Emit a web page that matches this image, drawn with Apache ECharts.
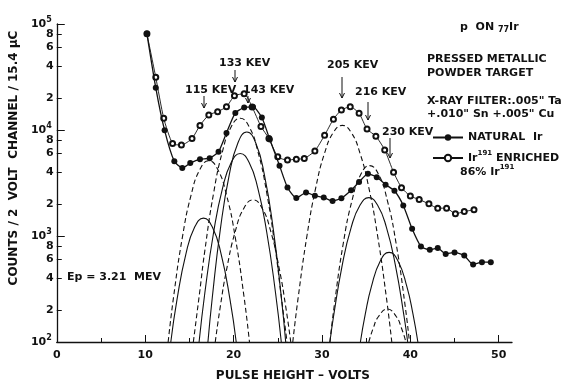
<!DOCTYPE html>
<html>
<head>
<meta charset="utf-8">
<script src="https://cdn.jsdelivr.net/npm/echarts@6/dist/echarts.min.js"></script>
<style>
html, body { margin: 0; background: #fff; }
#chart { width: 571px; height: 387px; }
</style>
</head>
<body>
<div id="chart"></div>
<script>
// measured points, pulse height (V) / counts
var voltsNatural = [10.2, 11.2, 12.2, 13.3, 14.2, 15.1, 16.2, 17.3, 18.3, 19.2, 20.2, 21.2, 22.2, 23.2, 24.1, 25.2, 26.1, 27.1, 28.2, 29.2,
	30.2, 31.2, 32.2, 33.3, 34.2, 35.2, 36.2, 37.2, 38.2, 39.2, 40.2, 41.2, 42.2, 43.1, 44.0, 45.0, 46.1, 47.1, 48.1, 49.1];
var countsNatural = [80700, 25000, 9930, 5060, 4380, 4870, 5310, 5420, 6250, 9380, 14500, 16300, 16500, 13100, 8130, 4610, 2870, 2280, 2570, 2400,
	2310, 2140, 2270, 2700, 3230, 3860, 3590, 3050, 2670, 1940, 1170, 796, 741, 769, 677, 700, 653, 538, 566, 566];
var voltsEnriched = [10.2, 11.2, 12.1, 13.1, 14.1, 15.3, 16.2, 17.2, 18.2, 19.2, 20.1, 21.2, 22.1, 23.1, 24.0, 25.0, 26.1, 27.1, 28.0, 29.2,
	30.3, 31.3, 32.2, 33.2, 34.2, 35.1, 36.1, 37.1, 38.1, 39.0, 40.0, 41.0, 42.1, 43.1, 44.1, 45.1, 46.1, 47.2];
var countsEnriched = [80700, 31400, 12900, 7460, 7210, 8310, 11050, 13870, 14900, 16560, 21000, 22000, 16500, 10800, 8320, 5580, 5200, 5310, 5380, 6350,
	8930, 12650, 15420, 16570, 14360, 10200, 8740, 6490, 4000, 2860, 2380, 2210, 2010, 1830, 1830, 1620, 1700, 1770];

// resolved peaks as drawn (solid = natural, dashed = enriched), [volts, counts]
var solid115 = [[12.9, 100], [13.6, 251], [14.6, 671], [15.6, 1213], [16.6, 1475], [17.6, 1213], [18.6, 671], [19.6, 251], [20.3, 100]];
var solid133 = [[16.1, 100], [16.75, 290], [17.75, 1090], [18.75, 2810], [19.75, 4960], [20.75, 6000], [21.75, 4960], [22.75, 2810], [23.75, 1090], [24.75, 290], [25.4, 100]];
var solid143 = [[17.1, 100], [17.6, 266], [18.5, 1150], [19.5, 3730], [20.5, 7570], [21.5, 9570], [22.5, 7570], [23.5, 3730], [24.5, 1150], [25.4, 266], [25.9, 100]];
var dashed115 = [[12.6, 100], [13.2, 261], [14.2, 962], [15.2, 2440], [16.2, 4260], [17.2, 5130], [18.2, 4260], [19.2, 2440], [20.2, 962], [21.2, 261], [21.8, 100]];
var dashed133 = [[15.45, 100], [16.15, 288], [16.75, 728], [17.75, 2560], [18.75, 6290], [19.75, 10790], [20.75, 12900], [21.75, 10790], [22.75, 6290], [23.75, 2560], [24.75, 728], [25.35, 288], [26.05, 100]];
var dashed143 = [[17.93, 100], [18.5, 216], [19.2, 477], [20.2, 1110], [21.2, 1850], [22.2, 2190], [23.2, 1850], [24.2, 1110], [25.2, 477], [25.9, 216], [26.47, 100]];
var dashed205 = [[26.7, 100], [27.3, 259], [28.3, 1000], [29.3, 2860], [30.3, 6060], [31.3, 9500], [32.3, 11050], [33.3, 9500], [34.3, 6060], [35.3, 2860], [36.3, 1000], [37.3, 259], [37.9, 100]];
var dashed216 = [[30.9, 100], [31.4, 223], [32.4, 840], [33.4, 2160], [34.4, 3820], [35.4, 4610], [36.4, 3820], [37.4, 2160], [38.4, 840], [39.4, 223], [39.9, 100]];
var dashed230 = [[35.3, 100], [35.8, 135], [36.4, 174], [37.4, 205], [38.4, 174], [39.0, 135], [39.5, 100]];
var solid216 = [[30.9, 100], [31.3, 172], [32.3, 535], [33.3, 1200], [34.3, 1950], [35.3, 2300], [36.3, 1950], [37.3, 1200], [38.3, 535], [39.3, 172], [39.7, 100]];
var solid230 = [[34.35, 100], [34.9, 183], [35.6, 335], [36.6, 582], [37.6, 700], [38.6, 582], [39.6, 335], [40.3, 183], [40.85, 100]];

var xMajor = [0, 10, 20, 30, 40, 50];
var xMinor = [5, 15, 25, 35, 45];
var yDecades = [100, 1000, 10000, 100000];
var yMinor = [200, 400, 600, 800, 2000, 4000, 6000, 8000, 20000, 40000, 60000, 80000];

var FONT = 'DejaVu Sans';
var INK = '#111';

function lg(arr) {
	return arr.map(function (v) { return Math.log10(v); });
}
function pts(xs, ys) {
	return xs.map(function (x, i) { return [x, Math.log10(ys[i])]; });
}
function pairs(p) {
	return p.map(function (d) { return [d[0], Math.log10(d[1])]; });
}
function comp(name, p, dashed) {
	return {
		name: name,
		type: 'line',
		data: pairs(p),
		showSymbol: false,
		smooth: 0.5,
		silent: true,
		z: 2,
		lineStyle: { color: INK, width: 1.1, type: dashed ? [5, 3] : 'solid' }
	};
}

var myChart = echarts.init(document.getElementById('chart'));

var labelRich = {
	b: { fontFamily: FONT, fontSize: 11, fontWeight: 'bold', color: INK },
	s: { fontFamily: FONT, fontSize: 8, fontWeight: 'bold', color: INK, padding: [0, 0, 9, 0] }
};
var textRich = {
	n: { fontFamily: FONT, fontSize: 11, fontWeight: 'bold', color: INK },
	sup: { fontFamily: FONT, fontSize: 7, fontWeight: 'bold', color: INK, padding: [0, 0, 9, 0] },
	sub: { fontFamily: FONT, fontSize: 8, fontWeight: 'bold', color: INK, padding: [6, 0, 0, 0] }
};

function txt(x, y, s) {
	return {
		type: 'text', x: x, y: y, silent: true,
		style: { text: s, fill: INK, font: 'bold 11px ' + FONT, verticalAlign: 'middle', align: 'left', rich: textRich }
	};
}
function arrow(x, y1, y2) {
	return {
		type: 'group', silent: true,
		children: [
			{ type: 'line', shape: { x1: x, y1: y1, x2: x, y2: y2 }, style: { stroke: INK, lineWidth: 1 } },
			{ type: 'polyline', shape: { points: [[x - 2.5, y2 - 5], [x, y2], [x + 2.5, y2 - 5]] }, style: { stroke: INK, lineWidth: 1, fill: null } }
		]
	};
}

var option = {
	animation: false,
	backgroundColor: '#fff',
	grid: { left: 49, right: 59, top: 24, bottom: 39 },
	legend: {
		left: 427,
		top: 127,
		orient: 'vertical',
		itemWidth: 30,
		itemHeight: 8,
		itemGap: 7,
		selectedMode: false,
		data: ['NATURAL Ir', 'ENRICHED'],
		formatter: function (name) {
			if (name === 'ENRICHED') return '{n|Ir}{sup|191}{n| ENRICHED}';
			return '{n|NATURAL  Ir}';
		},
		textStyle: { rich: textRich }
	},
	xAxis: [{
		type: 'value',
		min: 0,
		max: 51.5,
		position: 'bottom',
		name: 'PULSE HEIGHT – VOLTS',
		nameLocation: 'middle',
		nameGap: 28,
		nameTextStyle: { fontFamily: FONT, fontSize: 12, fontWeight: 'bold', color: INK, padding: [0, 0, 0, 17] },
		axisLine: { lineStyle: { color: INK, width: 1.3 } },
		axisTick: { inside: true, length: 7, customValues: xMajor, lineStyle: { color: INK } },
		axisLabel: { customValues: xMajor, margin: 8, fontFamily: FONT, fontSize: 11, fontWeight: 'bold', color: INK },
		splitLine: { show: false }
	}, {
		type: 'value',
		min: 0,
		max: 51.5,
		position: 'bottom',
		axisLine: { show: false },
		axisTick: { inside: true, length: 4, customValues: xMinor, lineStyle: { color: INK } },
		axisLabel: { show: false },
		splitLine: { show: false }
	}],
	yAxis: [{
		type: 'value',
		min: 2,
		max: 5,
		position: 'left',
		name: 'COUNTS / 2  VOLT  CHANNEL / 15.4 μC',
		nameLocation: 'middle',
		nameGap: 32,
		nameTextStyle: { fontFamily: FONT, fontSize: 12, fontWeight: 'bold', color: INK, padding: [0, 0, 0, 50] },
		axisLine: { show: true, lineStyle: { color: INK, width: 1.3 } },
		axisTick: { inside: true, length: 8, customValues: lg(yDecades), lineStyle: { color: INK } },
		axisLabel: {
			customValues: lg(yDecades),
			margin: 5,
			formatter: function (v) { return '{b|10}{s|' + Math.round(v) + '}'; },
			rich: labelRich
		},
		splitLine: { show: false }
	}, {
		type: 'value',
		min: 2,
		max: 5,
		position: 'left',
		axisLine: { show: false },
		axisTick: { inside: true, length: 5, customValues: lg(yMinor), lineStyle: { color: INK } },
		axisLabel: {
			customValues: lg(yMinor),
			margin: 3,
			formatter: function (v) { return '{b|' + Math.round(Math.pow(10, v - Math.floor(v + 1e-9))) + '}'; },
			rich: labelRich
		},
		splitLine: { show: false }
	}],
	graphic: [
		txt(460, 27, '{n|p  ON }{sub|77}{n|Ir}'),
		txt(427, 59, 'PRESSED METALLIC'),
		txt(427, 73, 'POWDER TARGET'),
		txt(427, 101, 'X-RAY FILTER:.005" Ta'),
		txt(427, 114, '+.010" Sn +.005" Cu'),
		txt(460, 172, '{n|86% Ir}{sup|191}'),
		txt(219, 63, '133 KEV'),
		txt(185, 90, '115 KEV'),
		txt(243, 90, '143 KEV'),
		txt(327, 65, '205 KEV'),
		txt(355, 92, '216 KEV'),
		txt(382, 132, '230 KEV'),
		txt(67, 277, 'Ep = 3.21  MEV'),
		arrow(235, 70, 82),
		arrow(204, 96, 108),
		arrow(248, 96, 103),
		arrow(342, 77, 98),
		arrow(368, 102, 120),
		arrow(390, 138, 158)
	],
	series: [
		comp('n115', solid115, false),
		comp('n133', solid133, false),
		comp('n143', solid143, false),
		comp('e115', dashed115, true),
		comp('e133', dashed133, true),
		comp('e143', dashed143, true),
		comp('e205', dashed205, true),
		comp('e216', dashed216, true),
		comp('e230', dashed230, true),
		comp('n216', solid216, false),
		comp('n230', solid230, false),
		{
			name: 'NATURAL Ir',
			type: 'line',
			data: pts(voltsNatural, countsNatural),
			smooth: 0.2,
			symbol: 'circle',
			symbolSize: 6,
			z: 5,
			lineStyle: { color: INK, width: 1.3 },
			itemStyle: { color: INK }
		},
		{
			name: 'ENRICHED',
			type: 'line',
			data: pts(voltsEnriched, countsEnriched),
			smooth: 0.2,
			symbol: 'emptyCircle',
			symbolSize: 5,
			z: 4,
			lineStyle: { color: INK, width: 0.9 },
			itemStyle: { color: INK, borderWidth: 0.9 }
		}
	]
};

myChart.setOption(option);
</script>
</body>
</html>
